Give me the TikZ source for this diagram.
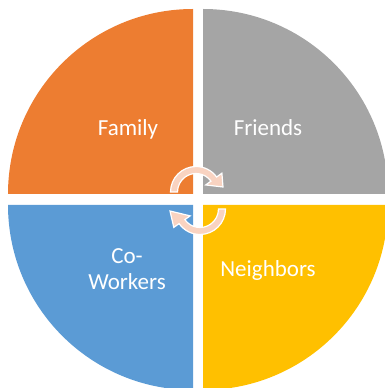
\documentclass[tikz,border=0pt]{standalone}
\usepackage{fontspec}
\setmainfont{Carlito}
\definecolor{qorange}{HTML}{ED7D31}
\definecolor{qgrey}{HTML}{A5A5A5}
\definecolor{qblue}{HTML}{5B9BD5}
\definecolor{qyellow}{HTML}{FFC000}
\definecolor{arrowpink}{HTML}{F9D3C1}
\begin{document}
\begin{tikzpicture}[x=1pt,y=1pt,
  lbl/.style={text=white,font=\fontsize{23}{26.7}\selectfont,align=center,anchor=base,inner sep=0pt},
  cyc/.style={fill=arrowpink,draw=white,line width=1.2pt,line join=miter}]
\useasboundingbox (0,0) rectangle (385,388);
\clip (0,0) rectangle (385,388);
% quadrants
\fill[qorange] (193,194) -- ++(-185,0) arc[start angle=180,end angle=90,radius=185] -- cycle;
\fill[qgrey] (203,194) -- ++(0,185) arc[start angle=90,end angle=0,radius=185] -- cycle;
\fill[qblue] (193,183) -- ++(-185,0) arc[start angle=180,end angle=270,radius=185] -- cycle;
\fill[qyellow] (203,183) -- ++(185,0) arc[start angle=0,end angle=-90,radius=185] -- cycle;
% labels
\node[lbl] (family) at (128,252) {Family};
\node[lbl] (friends) at (268,252) {Friends};
\node[lbl] (neighbors) at (268,111.3) {Neighbors};
\node[lbl] (co) at (127,124.7) {Co-};
\node[lbl] (workers) at (127,98) {Workers};
% cycle arrows
\begin{scope}[shift={(196,196)}]
\draw[cyc] (180:25.5) arc[start angle=180,end angle=36,radius=25.5]
  -- (36:32) -- (27,5) -- (36:12) -- (36:18.5)
  arc[start angle=36,end angle=180,radius=18.5] -- cycle;
\end{scope}
\begin{scope}[shift={(200,179)}]
\draw[cyc] (0:25.5) arc[start angle=0,end angle=-145,radius=25.5]
  -- (-145:32) -- (-30,-2) -- (-145:12) -- (-145:18.5)
  arc[start angle=-145,end angle=0,radius=18.5] -- cycle;
\end{scope}
\end{tikzpicture}
\end{document}
